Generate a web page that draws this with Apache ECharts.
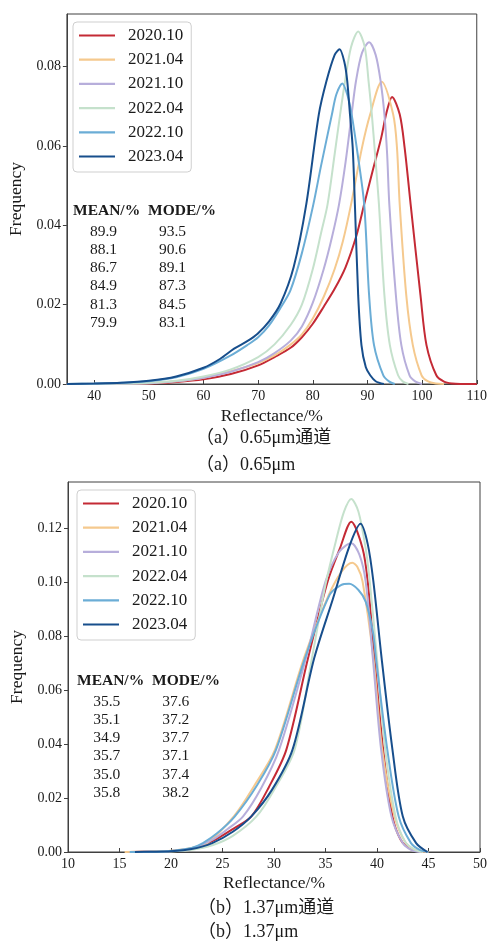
<!DOCTYPE html>
<html>
<head>
<meta charset="utf-8">
<script src="https://cdn.jsdelivr.net/npm/echarts@6/dist/echarts.min.js"></script>
<style>
  html, body { margin: 0; padding: 0; background: #ffffff; }
  #chart { width: 490px; height: 942px; }
</style>
</head>
<body>
<div id="chart"></div>
<script>
// ---- legend labels (observation periods) ----
const periods = ['2020.10', '2021.04', '2021.10', '2022.04', '2022.10', '2023.04'];

// ---- (a) 0.65 µm channel: reflectance (%) and frequency per period ----
const a2010X = [35, 50, 55, 60, 65, 70, 73, 76, 78, 80, 82, 84, 86, 88, 89.4, 91, 92.5, 93.5, 94.5, 95.9, 96.8, 97.9, 99.7, 100.8, 102.6, 104, 105.5, 107, 110];
const a2010Y = [0, 0.0001, 0.0005, 0.0012, 0.0025, 0.0047, 0.0068, 0.0092, 0.0118, 0.0152, 0.0195, 0.0240, 0.0295, 0.0375, 0.0453, 0.054, 0.062, 0.0685, 0.0724, 0.068, 0.0596, 0.0453, 0.0224, 0.0098, 0.0022, 0.0006, 0.0001, 0, 0];

const a2104X = [35, 50, 55, 60, 65, 70, 73, 76, 78, 80, 82, 84, 85.5, 87, 89, 90.5, 92.6, 94.7, 95.4, 95.9, 97.1, 98.3, 99.9, 101, 102.5, 104];
const a2104Y = [0, 0.0002, 0.0007, 0.0016, 0.0032, 0.0053, 0.0072, 0.0100, 0.0125, 0.0165, 0.022, 0.029, 0.036, 0.0453, 0.0596, 0.068, 0.0762, 0.068, 0.0596, 0.0453, 0.0224, 0.0098, 0.0022, 0.0007, 0.0001, 0];

const a2110X = [35, 50, 55, 60, 65, 70, 73, 76, 78, 80, 82, 83.5, 84.8, 86, 87.1, 87.9, 89, 90.3, 91.5, 92.4, 93.1, 93.6, 94.0, 95.2, 96.2, 97.7, 98.8, 100];
const a2110Y = [0, 0.0002, 0.0007, 0.0016, 0.0031, 0.0055, 0.0078, 0.011, 0.0145, 0.0205, 0.029, 0.037, 0.0453, 0.056, 0.068, 0.0764, 0.0835, 0.0862, 0.083, 0.0764, 0.068, 0.058, 0.0453, 0.0224, 0.0098, 0.0022, 0.0006, 0];

const a2204X = [35, 45, 50, 55, 60, 65, 70, 73, 76, 78, 80, 81.5, 82.7, 84, 85.0, 85.9, 87, 88.3, 89.5, 90.2, 90.8, 91.5, 92.1, 93.1, 94.1, 95.6, 96.5, 97.5];
const a2204Y = [0, 0.0001, 0.0003, 0.0008, 0.0019, 0.0037, 0.0068, 0.0100, 0.015, 0.020, 0.029, 0.038, 0.0453, 0.058, 0.068, 0.0764, 0.085, 0.0889, 0.085, 0.0764, 0.068, 0.056, 0.0453, 0.0224, 0.0098, 0.0022, 0.0006, 0];

const a2210X = [35, 40, 45, 50, 55, 60, 65, 68, 70, 72, 74, 75.9, 78, 80.1, 81.5, 83.5, 84.3, 85.4, 86.3, 87.1, 88.2, 89.4, 90.3, 91.2, 92.9, 94, 95];
const a2210Y = [0, 0.0001, 0.0003, 0.0007, 0.0017, 0.0038, 0.0072, 0.0098, 0.0118, 0.0148, 0.019, 0.0236, 0.033, 0.0453, 0.055, 0.068, 0.073, 0.0758, 0.073, 0.068, 0.058, 0.0453, 0.0224, 0.0098, 0.0022, 0.0006, 0];

const a2304X = [35, 40, 45, 50, 55, 60, 63, 65.6, 68, 69.9, 72, 74.1, 76.5, 78.8, 81.1, 82.5, 84, 84.9, 85.8, 86.3, 86.8, 87.3, 87.7, 88.3, 88.9, 89.7, 90.5, 91.5, 93];
const a2304Y = [0, 0.0001, 0.0003, 0.0008, 0.0019, 0.0041, 0.0063, 0.0089, 0.0108, 0.0127, 0.0158, 0.0203, 0.0295, 0.0453, 0.068, 0.0764, 0.083, 0.0844, 0.081, 0.0764, 0.068, 0.0596, 0.0453, 0.0224, 0.0098, 0.0042, 0.0022, 0.0007, 0];

// ---- (b) 1.37 µm channel ----
const b2010X = [16, 18, 20, 22, 24, 26, 27.8, 29.5, 31.2, 33.3, 35.2, 36.4, 37.5, 38.6, 39.1, 39.75, 40.6, 41.5, 42.3, 43.2, 44.2, 45];
const b2010Y = [0, 0.0001, 0.0003, 0.0012, 0.0040, 0.0085, 0.0132, 0.024, 0.0379, 0.0717, 0.1001, 0.1124, 0.1223, 0.1124, 0.1001, 0.0717, 0.0379, 0.0132, 0.0045, 0.0012, 0.0002, 0];

const b2104X = [15.5, 18, 20, 22, 23.5, 26.1, 28, 30.1, 32.9, 35.3, 36.6, 37.6, 38.1, 38.6, 39.65, 40.5, 41.7, 42.8, 43.8, 45];
const b2104Y = [0, 0.0002, 0.0005, 0.0015, 0.0033, 0.0132, 0.024, 0.0379, 0.0717, 0.0950, 0.1040, 0.1071, 0.1055, 0.1001, 0.0717, 0.0379, 0.0132, 0.0033, 0.0006, 0];

const b2110X = [16, 18, 20, 22, 24, 25.5, 27.0, 28.8, 30.5, 33.1, 35.0, 36.3, 37.5, 38.3, 38.9, 39.6, 40.4, 41.4, 42.5, 43.4, 44.3];
const b2110Y = [0, 0.0001, 0.0004, 0.0014, 0.0045, 0.0085, 0.0132, 0.024, 0.0379, 0.0717, 0.1001, 0.111, 0.1143, 0.110, 0.1001, 0.0717, 0.0379, 0.0132, 0.0033, 0.0006, 0];

const b2204X = [16.5, 20, 22, 24, 26, 28.3, 30, 32.0, 33.6, 35.0, 36.0, 36.8, 37.5, 38.2, 38.9, 39.3, 40.0, 40.8, 41.8, 42.7, 43.6, 44.5];
const b2204Y = [0, 0.0002, 0.0008, 0.0025, 0.0060, 0.0132, 0.023, 0.0379, 0.0700, 0.0990, 0.1150, 0.1260, 0.1307, 0.126, 0.1124, 0.1001, 0.0717, 0.0379, 0.0132, 0.0040, 0.001, 0];

const b2210X = [16, 18, 20, 22, 23.1, 24.5, 26.2, 28.4, 30.2, 33.0, 35.4, 36.5, 37.3, 38.2, 38.9, 39.6, 39.9, 41.0, 42.1, 43.3, 44.2, 45];
const b2210Y = [0, 0.0001, 0.0004, 0.0015, 0.0033, 0.0070, 0.0132, 0.0250, 0.0379, 0.0717, 0.0952, 0.0988, 0.0993, 0.097, 0.0927, 0.0816, 0.0717, 0.0379, 0.0132, 0.0033, 0.0007, 0];

const b2304X = [16.5, 18, 20, 22, 24, 26, 27.8, 29.8, 31.8, 33.9, 35.7, 37.3, 38.4, 39.1, 39.65, 40.45, 41.5, 42.5, 43.8, 44.9];
const b2304Y = [0, 0.0001, 0.0003, 0.0011, 0.0033, 0.0075, 0.0132, 0.023, 0.0379, 0.0717, 0.0935, 0.1130, 0.1215, 0.114, 0.1001, 0.0717, 0.0379, 0.0132, 0.0033, 0];

// ---- summary statistics shown inside each panel ----
const meanA = ['89.9', '88.1', '86.7', '84.9', '81.3', '79.9'];
const modeA = ['93.5', '90.6', '89.1', '87.3', '84.5', '83.1'];
const meanB = ['35.5', '35.1', '34.9', '35.7', '35.0', '35.8'];
const modeB = ['37.6', '37.2', '37.7', '37.1', '37.4', '38.2'];

// ---- axis ticks ----
const yTicksA = [0, 0.02, 0.04, 0.06, 0.08];
const xTicksA = [40, 50, 60, 70, 80, 90, 100, 110];
const yTicksB = [0, 0.02, 0.04, 0.06, 0.08, 0.10, 0.12];
const xTicksB = [10, 15, 20, 25, 30, 35, 40, 45, 50];

// ---- captions ----
const captionA1 = '（a）0.65μm通道';
const captionA2 = '（a）0.65μm';
const captionB1 = '（b）1.37μm通道';
const captionB2 = '（b）1.37μm';

const colors = ['#c42a35', '#f5c98e', '#b7aedb', '#c5e1cc', '#6badd6', '#174e8c'];
const serif = '"Liberation Serif", "Times New Roman", "Noto Sans CJK SC", serif';
const ink = '#1a1a1a';
const spine = '#404040';

const seriesA = [[a2010X, a2010Y], [a2104X, a2104Y], [a2110X, a2110Y], [a2204X, a2204Y], [a2210X, a2210Y], [a2304X, a2304Y]];
const seriesB = [[b2010X, b2010Y], [b2104X, b2104Y], [b2110X, b2110Y], [b2204X, b2204Y], [b2210X, b2210Y], [b2304X, b2304Y]];

function pairs(xs, ys) { return xs.map((x, i) => [x, ys[i]]); }

function makeSeries(list, gridIdx) {
  return list.map((s, i) => ({
    name: periods[i],
    type: 'line',
    xAxisIndex: gridIdx,
    yAxisIndex: gridIdx,
    data: pairs(s[0], s[1]),
    symbol: 'none',
    smooth: 0.3,
    z: 2 + i,
    lineStyle: { color: colors[i], width: 2 },
    itemStyle: { color: colors[i] }
  }));
}

function xAxisOf(gridIdx, min, max, ticks, gap) {
  return {
    type: 'value', gridIndex: gridIdx, min: min, max: max,
    name: 'Reflectance/%', nameLocation: 'middle', nameGap: gap,
    nameTextStyle: { fontFamily: serif, fontSize: 17.5, color: ink },
    splitLine: { show: false },
    axisLine: { show: true, onZero: false, lineStyle: { color: spine, width: 1 } },
    axisTick: { show: true, inside: true, length: 4, customValues: ticks, lineStyle: { color: spine } },
    axisLabel: { customValues: ticks, fontFamily: serif, fontSize: 14, color: ink, margin: 5,
                 showMinLabel: true, showMaxLabel: true }
  };
}

function yAxisOf(gridIdx, max, ticks) {
  return {
    type: 'value', gridIndex: gridIdx, min: 0, max: max,
    name: 'Frequency', nameLocation: 'middle', nameGap: 36, nameRotate: 90,
    nameTextStyle: { fontFamily: serif, fontSize: 17.5, color: ink },
    splitLine: { show: false },
    axisLine: { show: true, onZero: false, lineStyle: { color: spine, width: 1 } },
    axisTick: { show: true, inside: false, length: 4, customValues: ticks, lineStyle: { color: spine } },
    axisLabel: { customValues: ticks, formatter: v => v.toFixed(2), fontFamily: serif, fontSize: 14, color: ink, margin: 6 }
  };
}

function legendOf(left, top) {
  return {
    data: periods.map((p, i) => ({ name: p, itemStyle: { color: colors[i] } })),
    orient: 'vertical', left: left, top: top,
    icon: 'rect',
    padding: [5, 8, 7, 6], itemGap: 7.2, itemWidth: 36, itemHeight: 2.2,
    backgroundColor: 'rgba(255,255,255,0.85)', borderColor: '#cfcfcf', borderWidth: 1, borderRadius: 4,
    textStyle: { fontFamily: serif, fontSize: 17, color: ink, lineHeight: 17, padding: [0, 0, 0, 8] },
    selectedMode: false
  };
}

function statText(x0, headY, meanX, modeX, means, modes) {
  const els = [];
  els.push({ type: 'text', left: x0, top: headY - 9,
             style: { text: 'MEAN/%', font: 'bold 15.5px ' + serif, fill: ink } });
  els.push({ type: 'text', left: x0 + 75, top: headY - 9,
             style: { text: 'MODE/%', font: 'bold 15.5px ' + serif, fill: ink } });
  means.forEach((m, i) => {
    const y = headY + 19.5 + i * 18.3;
    els.push({ type: 'text', x: meanX, y: y, style: { text: m, font: '15.5px ' + serif, fill: ink, textAlign: 'center', textVerticalAlign: 'middle' } });
    els.push({ type: 'text', x: modeX, y: y, style: { text: modes[i], font: '15.5px ' + serif, fill: ink, textAlign: 'center', textVerticalAlign: 'middle' } });
  });
  return els;
}

function caption(x, y, t) {
  return { type: 'text', x: x, y: y, style: { text: t, font: '18px ' + serif, fill: ink, textAlign: 'left', textVerticalAlign: 'middle' } };
}

const chart = echarts.init(document.getElementById('chart'), null, { renderer: 'canvas' });
chart.setOption({
  animation: false,
  backgroundColor: '#ffffff',
  grid: [
    { left: 65, top: 14, width: 413, height: 370, show: true, borderColor: spine, borderWidth: 1, backgroundColor: 'transparent' },
    { left: 68, top: 482, width: 413, height: 370, show: true, borderColor: spine, borderWidth: 1, backgroundColor: 'transparent' }
  ],
  xAxis: [xAxisOf(0, 35, 110, xTicksA, 24), xAxisOf(1, 10, 50, xTicksB, 23)],
  yAxis: [yAxisOf(0, 0.0933, yTicksA), yAxisOf(1, 0.137, yTicksB)],
  legend: [legendOf(73, 22), legendOf(77, 490)],
  series: makeSeries(seriesA, 0).concat(makeSeries(seriesB, 1)),
  graphic: [].concat(
    statText(73, 212, 103.5, 172.5, meanA, modeA),
    statText(77, 682, 106.7, 175.7, meanB, modeB),
    [caption(196, 438, captionA1), caption(196, 465, captionA2),
     caption(198, 908, captionB1), caption(198, 932, captionB2)]
  )
});
</script>
</body>
</html>
